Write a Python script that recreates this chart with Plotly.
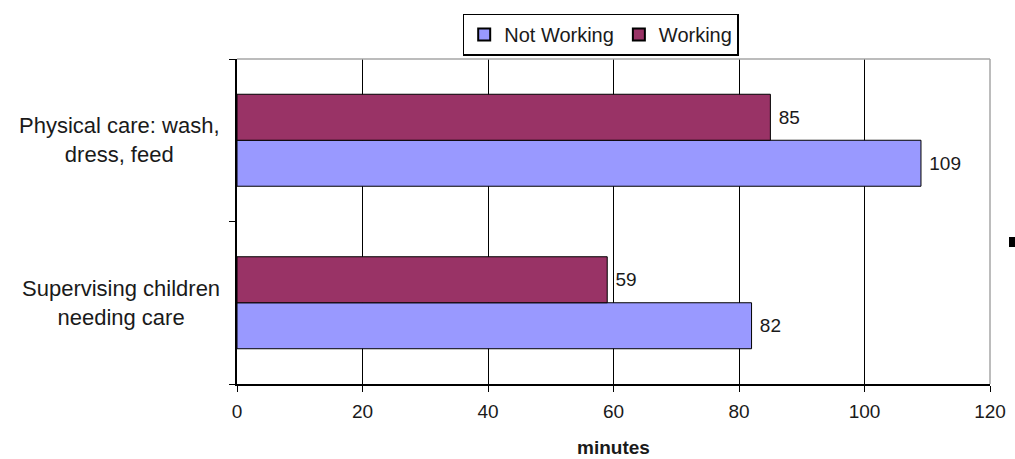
import plotly.graph_objects as go

# Activities (bottom to top on the category axis)
categories = ["Supervising children<br>needing care", "Physical care: wash,<br>dress, feed"]
not_working = [82, 109]
working = [59, 85]
series_names = ["Not Working", "Working"]
x_ticks = [0, 20, 40, 60, 80, 100, 120]

FONT = "Liberation Sans, Arial, sans-serif"
TXT = "#1a1a1a"

fig = go.Figure()
fig.add_trace(go.Bar(
    y=categories, x=not_working, name=series_names[0], orientation="h",
    marker=dict(color="#9999FF", line=dict(color="#000000", width=1)),
    text=not_working, texttemplate=" %{text}", textposition="outside", cliponaxis=False,
    textfont=dict(family=FONT, size=19, color=TXT),
))
fig.add_trace(go.Bar(
    y=categories, x=working, name=series_names[1], orientation="h",
    marker=dict(color="#993366", line=dict(color="#000000", width=1)),
    text=working, texttemplate=" %{text}", textposition="outside", cliponaxis=False,
    textfont=dict(family=FONT, size=19, color=TXT),
))

# Category labels, centred multi-line text to the left of the axis
annotations = [
    dict(x=-0.02, y=c, xref="paper", yref="y", text=c, showarrow=False,
         xanchor="right", yanchor="middle", align="center",
         font=dict(family=FONT, size=22, color=TXT))
    for c in categories
]

shapes = [
    # light plot-area frame on top and right
    dict(type="line", xref="paper", yref="paper", x0=0, x1=1, y0=1, y1=1,
         line=dict(color="#a6a6a6", width=1.5), layer="above"),
    dict(type="line", xref="paper", yref="paper", x0=1, x1=1, y0=0, y1=1,
         line=dict(color="#a6a6a6", width=1.5), layer="above"),
    # small dark mark at the right edge
    dict(type="rect", xref="paper", yref="paper", x0=1.0252, x1=1.045,
         y0=0.4215, y1=0.4523, fillcolor="#000000", line=dict(width=0)),
]

fig.update_layout(
    width=1015, height=459,
    margin=dict(l=237, r=25, t=59, b=75),
    paper_bgcolor="white", plot_bgcolor="white",
    barmode="group", bargap=0.434, bargroupgap=0,
    font=dict(family=FONT, size=19, color=TXT),
    showlegend=True,
    legend=dict(orientation="h", x=0.483, xanchor="center", y=1.14, yanchor="top",
                bordercolor="#000000", borderwidth=1.5, bgcolor="white",
                font=dict(family=FONT, size=20, color=TXT),
                traceorder="normal", itemsizing="constant"),
    annotations=annotations,
    shapes=shapes,
    xaxis=dict(
        range=[0, 120], tickvals=x_ticks, ticktext=[str(v) for v in x_ticks],
        showgrid=True, gridcolor="#000000", gridwidth=1,
        showline=True, linecolor="#000000", linewidth=1.5,
        ticks="outside", ticklen=6, tickcolor="#000000",
        ticklabelstandoff=3, automargin=False,
        zeroline=False,
        tickfont=dict(family=FONT, size=19, color=TXT),
        title=dict(text="<b>minutes</b>", standoff=20,
                   font=dict(family=FONT, size=19, color=TXT)),
    ),
    yaxis=dict(
        type="category", categoryorder="array", categoryarray=categories,
        showticklabels=False, showgrid=False, automargin=False,
        showline=True, linecolor="#000000", linewidth=1.5,
        ticks="outside", ticklen=6, tickcolor="#000000", tickson="boundaries",
        zeroline=False,
    ),
)

fig.write_html("out.html")
